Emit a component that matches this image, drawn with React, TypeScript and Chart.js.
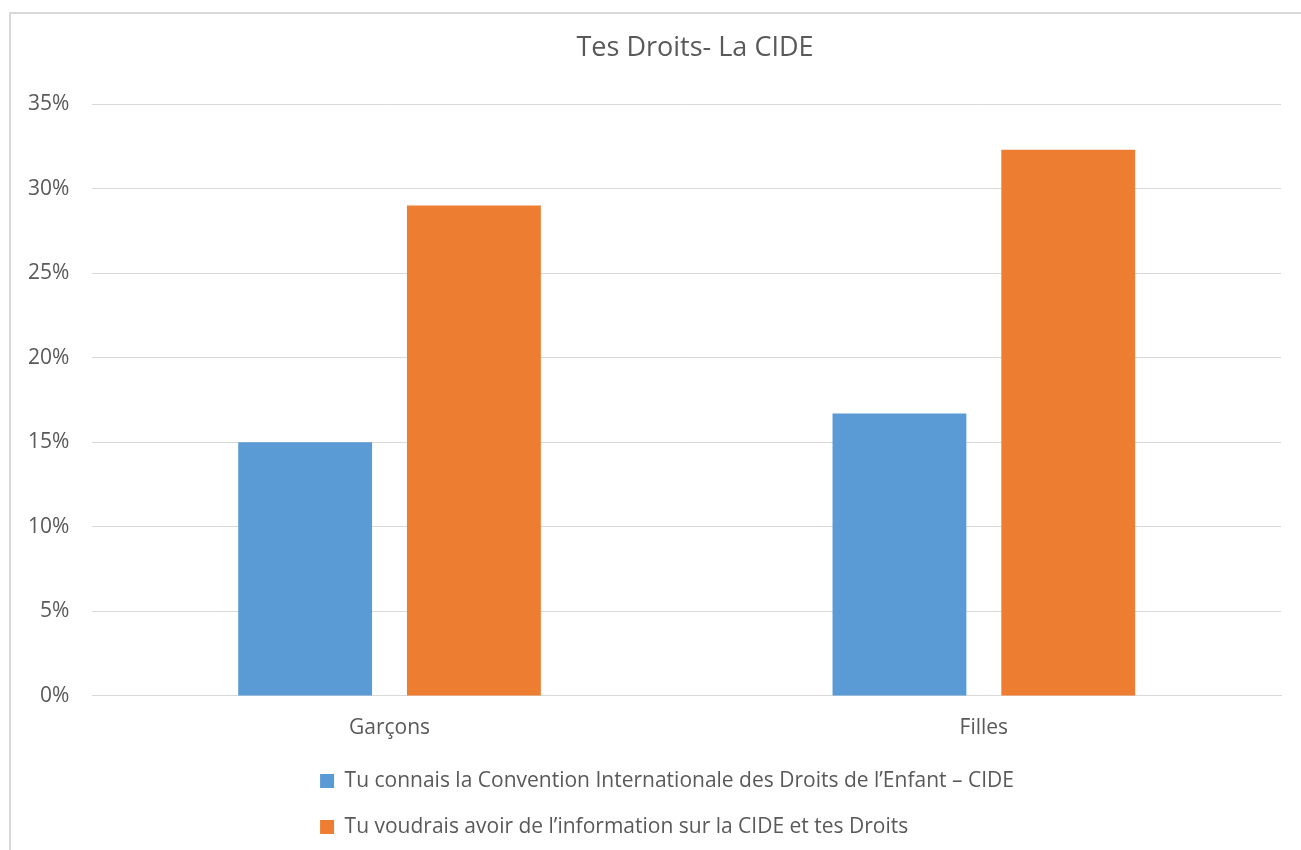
import React, { useEffect, useRef } from "react";
import { Chart, registerables } from "chart.js";

Chart.register(...registerables);

const chartTitle = "Tes Droits- La CIDE";
const categories = ["Garçons", "Filles"];
const seriesNames = [
  "Tu connais la Convention Internationale des Droits de l\u2019Enfant \u2013 CIDE",
  "Tu voudrais avoir de l\u2019information sur la CIDE et tes Droits",
];
const connaisValues = [15.0, 16.7];
const voudraisValues = [29.0, 32.3];
const seriesColors = ["#5B9BD5", "#ED7D31"];
const yMin = 0;
const yMax = 35;
const yStep = 5;

const FONT = "'Open Sans', sans-serif";
const TEXT = "#595959";
const GRID = "#d9d9d9";

const titlePlugin = {
  id: "customTitle",
  afterDraw(chart: any) {
    const ctx = chart.ctx;
    ctx.save();
    ctx.font = `27px ${FONT}`;
    ctx.fillStyle = TEXT;
    ctx.textAlign = "center";
    ctx.textBaseline = "middle";
    ctx.fillText(chartTitle, 695, 48);
    ctx.restore();
  },
};

const legendAlignPlugin = {
  id: "legendAlign",
  beforeDraw(chart: any) {
    const lg = chart.legend;
    if (lg && lg.lineWidths && lg.lineWidths.length) {
      const m = Math.max(...lg.lineWidths);
      lg.lineWidths = lg.lineWidths.map(() => m - 48);
      lg.top -= 14.5;
      lg.bottom -= 14.5;
    }
  },
};

export default function App() {
  const ref = useRef<HTMLCanvasElement | null>(null);
  useEffect(() => {
    if (!ref.current) return;
    const chart = new Chart(ref.current, {
      type: "bar",
      data: {
        labels: categories,
        datasets: [
          {
            label: seriesNames[0],
            data: connaisValues,
            backgroundColor: seriesColors[0],
            categoryPercentage: 0.568,
            barPercentage: 0.793,
          },
          {
            label: seriesNames[1],
            data: voudraisValues,
            backgroundColor: seriesColors[1],
            categoryPercentage: 0.568,
            barPercentage: 0.793,
          },
        ],
      },
      plugins: [titlePlugin, legendAlignPlugin],
      options: {
        responsive: false,
        animation: false,
        layout: { padding: { top: 104, left: 5, right: 20, bottom: 0 } },
        plugins: {
          title: { display: false },
          tooltip: { enabled: false },
          legend: {
            position: "bottom",
            labels: {
              boxWidth: 14,
              boxHeight: 14,
              padding: 25,
              color: TEXT,
              font: { family: FONT, size: 21 },
            },
          },
        },
        scales: {
          x: {
            grid: { display: false, drawTicks: false },
            border: { display: true, color: GRID },
            ticks: {
              color: TEXT,
              padding: 21,
              font: { family: FONT, size: 21, lineHeight: 1.048 },
            },
          },
          y: {
            min: yMin,
            max: yMax,
            grid: { color: GRID, drawTicks: false },
            border: { display: false },
            ticks: {
              stepSize: yStep,
              color: TEXT,
              padding: 23,
              font: { family: FONT, size: 21 },
              callback: (v: any) => `${v}%`,
            },
          },
        },
      },
    });
    return () => chart.destroy();
  }, []);
  return (
    <div
      style={{
        position: "absolute",
        left: 0,
        top: 0,
        width: 1301,
        height: 850,
        overflow: "hidden",
        background: "#fff",
      }}
    >
      <div
        style={{
          position: "absolute",
          left: 9,
          top: 12,
          width: 1400,
          height: 900,
          border: `2px solid ${GRID}`,
        }}
      />
      <canvas
        ref={ref}
        width={1301}
        height={862}
        style={{ position: "absolute", left: 0, top: 0 }}
      />
    </div>
  );
}
